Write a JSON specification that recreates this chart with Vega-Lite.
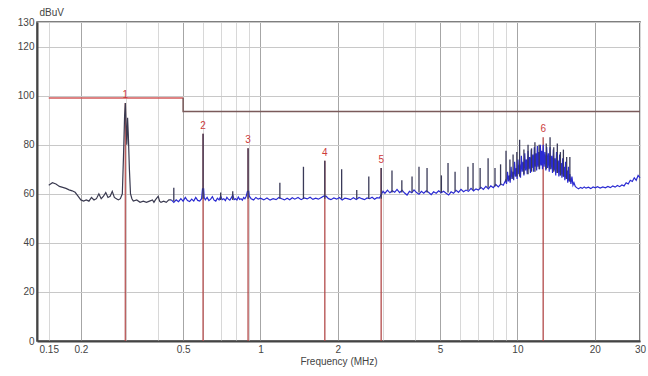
{
  "$schema": "https://vega.github.io/schema/vega-lite/v6.json",
  "width": 603,
  "height": 319,
  "autosize": {"type": "none"},
  "padding": {"left": 37, "top": 22, "right": 8, "bottom": 35},
  "background": "white",
  "config": {
    "view": {"stroke": "#555", "strokeWidth": 1.5},
    "font": "Liberation Sans",
    "axis": {"labelFont": "Liberation Sans", "titleFont": "Liberation Sans", "labelColor": "#444", "titleColor": "#444", "labelFontSize": 10, "titleFontSize": 10, "titleFontWeight": "normal", "domainColor": "#444", "domainWidth": 2, "ticks": false}
  },
  "datasets": {
    "trace": [
      {"f":0.15,"v":63.5,"p":"a"},{"f":0.155,"v":64.5,"p":"a"},{"f":0.16,"v":64,"p":"a"},{"f":0.165,"v":63,"p":"a"},{"f":0.17,"v":62.6,"p":"a"},{"f":0.175,"v":62.2,"p":"a"},{"f":0.18,"v":61.6,"p":"a"},{"f":0.185,"v":61.2,"p":"a"},{"f":0.19,"v":60.6,"p":"a"},{"f":0.195,"v":59,"p":"a"},{"f":0.2,"v":57.5,"p":"a"},{"f":0.205,"v":57,"p":"a"},{"f":0.21,"v":57.5,"p":"a"},{"f":0.215,"v":57,"p":"a"},{"f":0.22,"v":58.5,"p":"a"},{"f":0.225,"v":57.5,"p":"a"},{"f":0.23,"v":58,"p":"a"},{"f":0.235,"v":60,"p":"a"},{"f":0.24,"v":58,"p":"a"},{"f":0.245,"v":59,"p":"a"},{"f":0.25,"v":60.5,"p":"a"},{"f":0.255,"v":58.5,"p":"a"},{"f":0.26,"v":59,"p":"a"},{"f":0.265,"v":61,"p":"a"},{"f":0.27,"v":58.5,"p":"a"},{"f":0.275,"v":58,"p":"a"},{"f":0.28,"v":57.5,"p":"a"},{"f":0.285,"v":58,"p":"a"},{"f":0.29,"v":60,"p":"a"},{"f":0.293,"v":75,"p":"a"},{"f":0.296,"v":92,"p":"a"},{"f":0.298,"v":97,"p":"a"},{"f":0.3,"v":88,"p":"a"},{"f":0.302,"v":80,"p":"a"},{"f":0.304,"v":91,"p":"a"},{"f":0.306,"v":84,"p":"a"},{"f":0.309,"v":70,"p":"a"},{"f":0.312,"v":60,"p":"a"},{"f":0.316,"v":58,"p":"a"},{"f":0.32,"v":57,"p":"a"},{"f":0.33,"v":57.5,"p":"a"},{"f":0.34,"v":56.5,"p":"a"},{"f":0.35,"v":57,"p":"a"},{"f":0.36,"v":56.5,"p":"a"},{"f":0.37,"v":57,"p":"a"},{"f":0.38,"v":57.5,"p":"a"},{"f":0.385,"v":56.5,"p":"a"},{"f":0.39,"v":57.5,"p":"a"},{"f":0.4,"v":59,"p":"a"},{"f":0.405,"v":57,"p":"a"},{"f":0.41,"v":56.5,"p":"a"},{"f":0.42,"v":57,"p":"a"},{"f":0.43,"v":56.5,"p":"a"},{"f":0.44,"v":57.5,"p":"a"},{"f":0.45,"v":57.5,"p":"a"},
      {"f":0.45,"v":57.5,"p":"b"},{"f":0.46,"v":56.5,"p":"b"},{"f":0.47,"v":57.5,"p":"b"},{"f":0.48,"v":56.8,"p":"b"},{"f":0.49,"v":58,"p":"b"},{"f":0.5,"v":57,"p":"b"},{"f":0.51,"v":58.5,"p":"b"},{"f":0.52,"v":57.2,"p":"b"},{"f":0.53,"v":56.8,"p":"b"},{"f":0.54,"v":57.8,"p":"b"},{"f":0.55,"v":57,"p":"b"},{"f":0.56,"v":58.5,"p":"b"},{"f":0.57,"v":57.3,"p":"b"},{"f":0.58,"v":57,"p":"b"},{"f":0.59,"v":58,"p":"b"},{"f":0.595,"v":62,"p":"b"},{"f":0.601,"v":62,"p":"b"},{"f":0.604,"v":58.5,"p":"b"},{"f":0.61,"v":57.5,"p":"b"},{"f":0.62,"v":58.5,"p":"b"},{"f":0.63,"v":57.2,"p":"b"},{"f":0.64,"v":57.8,"p":"b"},{"f":0.65,"v":58.8,"p":"b"},{"f":0.66,"v":57.4,"p":"b"},{"f":0.67,"v":57,"p":"b"},{"f":0.68,"v":58.2,"p":"b"},{"f":0.69,"v":57.5,"p":"b"},{"f":0.7,"v":59,"p":"b"},{"f":0.71,"v":57.6,"p":"b"},{"f":0.72,"v":58,"p":"b"},{"f":0.73,"v":57.2,"p":"b"},{"f":0.74,"v":58.5,"p":"b"},{"f":0.75,"v":57.8,"p":"b"},{"f":0.76,"v":57.4,"p":"b"},{"f":0.77,"v":58.3,"p":"b"},{"f":0.78,"v":59.5,"p":"b"},{"f":0.79,"v":57.6,"p":"b"},{"f":0.8,"v":58,"p":"b"},{"f":0.81,"v":57.5,"p":"b"},{"f":0.82,"v":58.7,"p":"b"},{"f":0.83,"v":57.7,"p":"b"},{"f":0.84,"v":58,"p":"b"},{"f":0.85,"v":57.4,"p":"b"},{"f":0.86,"v":58.5,"p":"b"},{"f":0.87,"v":58,"p":"b"},{"f":0.88,"v":59,"p":"b"},{"f":0.89,"v":61,"p":"b"},{"f":0.9,"v":61,"p":"b"},{"f":0.905,"v":59,"p":"b"},{"f":0.92,"v":58,"p":"b"},{"f":0.94,"v":57.5,"p":"b"},{"f":0.96,"v":58.5,"p":"b"},{"f":0.98,"v":57.8,"p":"b"},{"f":1.0,"v":58.2,"p":"b"},{"f":1.03,"v":57.5,"p":"b"},{"f":1.06,"v":58.3,"p":"b"},{"f":1.09,"v":57.4,"p":"b"},{"f":1.12,"v":58,"p":"b"},{"f":1.15,"v":57.6,"p":"b"},{"f":1.18,"v":58.5,"p":"b"},{"f":1.21,"v":58,"p":"b"},{"f":1.24,"v":57.5,"p":"b"},{"f":1.27,"v":58.2,"p":"b"},{"f":1.3,"v":57.6,"p":"b"},{"f":1.33,"v":58.4,"p":"b"},{"f":1.36,"v":57.8,"p":"b"},{"f":1.4,"v":58.5,"p":"b"},{"f":1.44,"v":57.6,"p":"b"},{"f":1.48,"v":58.3,"p":"b"},{"f":1.52,"v":57.9,"p":"b"},{"f":1.56,"v":58.6,"p":"b"},{"f":1.6,"v":57.7,"p":"b"},{"f":1.64,"v":58.2,"p":"b"},{"f":1.68,"v":57.8,"p":"b"},{"f":1.72,"v":58.4,"p":"b"},{"f":1.76,"v":59,"p":"b"},{"f":1.8,"v":59,"p":"b"},{"f":1.84,"v":58,"p":"b"},{"f":1.88,"v":57.6,"p":"b"},{"f":1.93,"v":58.3,"p":"b"},{"f":1.98,"v":57.8,"p":"b"},{"f":2.03,"v":58.5,"p":"b"},{"f":2.08,"v":57.5,"p":"b"},{"f":2.13,"v":58.2,"p":"b"},{"f":2.18,"v":58,"p":"b"},{"f":2.24,"v":57.6,"p":"b"},{"f":2.3,"v":58.4,"p":"b"},{"f":2.36,"v":57.7,"p":"b"},{"f":2.42,"v":58.5,"p":"b"},{"f":2.48,"v":58,"p":"b"},{"f":2.54,"v":57.6,"p":"b"},{"f":2.6,"v":58.3,"p":"b"},{"f":2.66,"v":58,"p":"b"},{"f":2.72,"v":58.6,"p":"b"},{"f":2.78,"v":57.8,"p":"b"},{"f":2.84,"v":58.4,"p":"b"},{"f":2.9,"v":58.2,"p":"b"},{"f":3.0,"v":61,"p":"b"},{"f":3.05,"v":60.2,"p":"b"},{"f":3.12,"v":61.5,"p":"b"},{"f":3.19,"v":60.4,"p":"b"},{"f":3.26,"v":61.2,"p":"b"},{"f":3.33,"v":60.6,"p":"b"},{"f":3.4,"v":61.8,"p":"b"},{"f":3.48,"v":60.5,"p":"b"},{"f":3.56,"v":61.4,"p":"b"},{"f":3.64,"v":60.3,"p":"b"},{"f":3.72,"v":59.5,"p":"b"},{"f":3.8,"v":61,"p":"b"},{"f":3.88,"v":60.4,"p":"b"},{"f":3.96,"v":61.6,"p":"b"},{"f":4.05,"v":60.5,"p":"b"},{"f":4.14,"v":59.8,"p":"b"},{"f":4.23,"v":61,"p":"b"},{"f":4.32,"v":60.2,"p":"b"},{"f":4.42,"v":61.2,"p":"b"},{"f":4.52,"v":60.5,"p":"b"},{"f":4.62,"v":59.6,"p":"b"},{"f":4.72,"v":60.8,"p":"b"},{"f":4.83,"v":60.2,"p":"b"},{"f":4.94,"v":61.2,"p":"b"},{"f":5.05,"v":60.4,"p":"b"},{"f":5.16,"v":61,"p":"b"},{"f":5.28,"v":60.2,"p":"b"},{"f":5.4,"v":59.5,"p":"b"},{"f":5.52,"v":60.8,"p":"b"},{"f":5.64,"v":60.2,"p":"b"},{"f":5.77,"v":61.4,"p":"b"},{"f":5.9,"v":60.6,"p":"b"},{"f":6.03,"v":61.8,"p":"b"},{"f":6.17,"v":60.8,"p":"b"},{"f":6.31,"v":61.5,"p":"b"},{"f":6.45,"v":61,"p":"b"},{"f":6.6,"v":62.2,"p":"b"},{"f":6.75,"v":61.2,"p":"b"},{"f":6.9,"v":62,"p":"b"},{"f":7.05,"v":61.5,"p":"b"},{"f":7.21,"v":62.6,"p":"b"},{"f":7.37,"v":61.8,"p":"b"},{"f":7.54,"v":63,"p":"b"},{"f":7.71,"v":62,"p":"b"},{"f":7.88,"v":63.2,"p":"b"},{"f":8.06,"v":62.5,"p":"b"},{"f":8.24,"v":63.8,"p":"b"},{"f":8.43,"v":62.8,"p":"b"},{"f":8.62,"v":64,"p":"b"},{"f":8.81,"v":63.5,"p":"b"},{"f":9.0,"v":65.5,"p":"b"},{"f":9.07,"v":64,"p":"b"},{"f":9.15,"v":69,"p":"b"},{"f":9.22,"v":65,"p":"b"},{"f":9.3,"v":67.5,"p":"b"},{"f":9.37,"v":64.5,"p":"b"},{"f":9.45,"v":71,"p":"b"},{"f":9.52,"v":66,"p":"b"},{"f":9.6,"v":69,"p":"b"},{"f":9.67,"v":65.5,"p":"b"},{"f":9.75,"v":73,"p":"b"},{"f":9.82,"v":67,"p":"b"},{"f":9.9,"v":70.5,"p":"b"},{"f":9.97,"v":66,"p":"b"},{"f":10.05,"v":74,"p":"b"},{"f":10.12,"v":68,"p":"b"},{"f":10.2,"v":72,"p":"b"},{"f":10.28,"v":66.5,"p":"b"},{"f":10.36,"v":75.5,"p":"b"},{"f":10.44,"v":69,"p":"b"},{"f":10.52,"v":73,"p":"b"},{"f":10.6,"v":67.5,"p":"b"},{"f":10.68,"v":76.5,"p":"b"},{"f":10.76,"v":69.5,"p":"b"},{"f":10.84,"v":74,"p":"b"},{"f":10.92,"v":68,"p":"b"},{"f":11.0,"v":77.5,"p":"b"},{"f":11.08,"v":70,"p":"b"},{"f":11.16,"v":75,"p":"b"},{"f":11.24,"v":68.5,"p":"b"},{"f":11.32,"v":78,"p":"b"},{"f":11.4,"v":70.5,"p":"b"},{"f":11.48,"v":76,"p":"b"},{"f":11.56,"v":69,"p":"b"},{"f":11.64,"v":79,"p":"b"},{"f":11.72,"v":71,"p":"b"},{"f":11.8,"v":76.5,"p":"b"},{"f":11.88,"v":69.5,"p":"b"},{"f":11.96,"v":79.5,"p":"b"},{"f":12.04,"v":71,"p":"b"},{"f":12.12,"v":77,"p":"b"},{"f":12.2,"v":70,"p":"b"},{"f":12.28,"v":80,"p":"b"},{"f":12.36,"v":71.5,"p":"b"},{"f":12.44,"v":77.5,"p":"b"},{"f":12.52,"v":70,"p":"b"},{"f":12.6,"v":80,"p":"b"},{"f":12.7,"v":71,"p":"b"},{"f":12.8,"v":77,"p":"b"},{"f":12.9,"v":69.5,"p":"b"},{"f":13.0,"v":79,"p":"b"},{"f":13.1,"v":70.5,"p":"b"},{"f":13.2,"v":76.5,"p":"b"},{"f":13.3,"v":69,"p":"b"},{"f":13.4,"v":79,"p":"b"},{"f":13.5,"v":70,"p":"b"},{"f":13.6,"v":75.5,"p":"b"},{"f":13.7,"v":68.5,"p":"b"},{"f":13.8,"v":78,"p":"b"},{"f":13.9,"v":69.5,"p":"b"},{"f":14.0,"v":74.5,"p":"b"},{"f":14.1,"v":67.5,"p":"b"},{"f":14.2,"v":77,"p":"b"},{"f":14.3,"v":68.5,"p":"b"},{"f":14.4,"v":73.5,"p":"b"},{"f":14.5,"v":67,"p":"b"},{"f":14.6,"v":76,"p":"b"},{"f":14.7,"v":67.5,"p":"b"},{"f":14.8,"v":72.5,"p":"b"},{"f":14.9,"v":66.5,"p":"b"},{"f":15.0,"v":74.5,"p":"b"},{"f":15.1,"v":67,"p":"b"},{"f":15.2,"v":71,"p":"b"},{"f":15.3,"v":65.5,"p":"b"},{"f":15.4,"v":73,"p":"b"},{"f":15.5,"v":66,"p":"b"},{"f":15.6,"v":69.5,"p":"b"},{"f":15.7,"v":64.5,"p":"b"},{"f":15.8,"v":71,"p":"b"},{"f":15.9,"v":65,"p":"b"},{"f":16.0,"v":68,"p":"b"},{"f":16.15,"v":64,"p":"b"},{"f":16.3,"v":67,"p":"b"},{"f":16.45,"v":63.5,"p":"b"},{"f":16.6,"v":64.5,"p":"b"},{"f":16.8,"v":63,"p":"b"},{"f":17.0,"v":62.5,"p":"b"},{"f":17.3,"v":62,"p":"b"},{"f":17.6,"v":62.6,"p":"b"},{"f":17.9,"v":62.2,"p":"b"},{"f":18.2,"v":62.8,"p":"b"},{"f":18.5,"v":62.3,"p":"b"},{"f":18.9,"v":62.7,"p":"b"},{"f":19.3,"v":62.1,"p":"b"},{"f":19.7,"v":62.8,"p":"b"},{"f":20.1,"v":62.4,"p":"b"},{"f":20.5,"v":62.9,"p":"b"},{"f":21.0,"v":62.3,"p":"b"},{"f":21.5,"v":62.8,"p":"b"},{"f":22.0,"v":62.4,"p":"b"},{"f":22.5,"v":63,"p":"b"},{"f":23.0,"v":62.5,"p":"b"},{"f":23.5,"v":63.2,"p":"b"},{"f":24.0,"v":62.7,"p":"b"},{"f":24.5,"v":63.4,"p":"b"},{"f":25.0,"v":62.9,"p":"b"},{"f":25.5,"v":63.6,"p":"b"},{"f":26.0,"v":63.2,"p":"b"},{"f":26.5,"v":64.5,"p":"b"},{"f":27.0,"v":64,"p":"b"},{"f":27.5,"v":65.5,"p":"b"},{"f":28.0,"v":65,"p":"b"},{"f":28.5,"v":66.5,"p":"b"},{"f":29.0,"v":65.5,"p":"b"},{"f":29.5,"v":67.5,"p":"b"},{"f":30.0,"v":66.5,"p":"b"}
    ],
    "spikes": [
      {"f":0.46,"lo":57,"hi":62.5},{"f":0.598,"lo":58,"hi":84.5},{"f":0.7,"lo":57.5,"hi":60.5},{"f":0.78,"lo":57.5,"hi":61},{"f":0.895,"lo":58,"hi":78.5},
      {"f":1.19,"lo":58,"hi":64.5},{"f":1.47,"lo":58,"hi":71},{"f":1.78,"lo":58,"hi":73.5},{"f":2.07,"lo":58,"hi":70},{"f":2.37,"lo":58,"hi":61.5},{"f":2.64,"lo":58,"hi":67},{"f":2.95,"lo":58,"hi":70.5},
      {"f":3.25,"lo":60.5,"hi":69.5},{"f":3.55,"lo":60.5,"hi":65.5},{"f":3.89,"lo":60.5,"hi":67},{"f":4.14,"lo":60.5,"hi":71},{"f":4.45,"lo":60.5,"hi":70.5},{"f":5.06,"lo":60.5,"hi":67.5},{"f":5.37,"lo":60.5,"hi":72.5},{"f":5.72,"lo":61,"hi":69},{"f":6.42,"lo":61.5,"hi":71},{"f":6.72,"lo":61.5,"hi":72.5},{"f":7.16,"lo":62,"hi":70.5},{"f":7.69,"lo":62.5,"hi":74.5},{"f":8.18,"lo":63,"hi":70.5},
      {"f":8.6,"lo":63.5,"hi":72},{"f":9.03,"lo":65,"hi":77.5},{"f":9.35,"lo":65.5,"hi":74},{"f":9.62,"lo":66,"hi":76},{"f":9.95,"lo":67,"hi":77},{"f":10.2,"lo":67,"hi":82},{"f":10.6,"lo":68,"hi":78},{"f":11.0,"lo":68,"hi":80},{"f":11.35,"lo":69,"hi":78.5},{"f":11.7,"lo":69,"hi":81},{"f":12.15,"lo":70,"hi":80},{"f":12.95,"lo":70,"hi":80.5},{"f":13.4,"lo":70,"hi":83},{"f":13.85,"lo":69,"hi":79},{"f":14.3,"lo":68.5,"hi":80.5},{"f":14.7,"lo":67.5,"hi":77},{"f":15.1,"lo":67,"hi":78},{"f":15.55,"lo":66,"hi":75},{"f":16.0,"lo":65,"hi":75}
    ],
    "markers": [
      {"f":0.298,"v":97,"n":"1"},{"f":0.598,"v":84.5,"n":"2"},{"f":0.895,"v":78.5,"n":"3"},{"f":1.78,"v":73.5,"n":"4"},{"f":2.95,"v":70.5,"n":"5"},{"f":12.6,"v":83,"n":"6"}
    ],
    "limitA": [{"f":0.15,"v":99},{"f":0.5,"v":99}],
    "limitB": [{"f":0.5,"v":99},{"f":0.5,"v":93.5},{"f":30,"v":93.5}]
  },
  "layer": [
    {
      "data": {"name": "limitA"},
      "mark": {"type": "line", "color": "#d35a5a", "strokeWidth": 1.5},
      "encoding": {
        "x": {"field": "f", "type": "quantitative",
          "scale": {"type": "log", "domain": [0.135, 30], "nice": false},
          "axis": {
            "values": [0.15,0.2,0.3,0.4,0.5,0.6,0.7,0.8,0.9,1,2,3,4,5,6,7,8,9,10,20,30],
            "labelExpr": "indexof([0.15,0.2,0.5,1,2,5,10,20,30], datum.value) >= 0 ? datum.value + '' : ''",
            "labelOverlap": false, "labelFlush": false, "labelBound": false, "labelPadding": 3,
            "gridColor": {"condition": {"test": "indexof([0.2,0.5,1,2,5,10,20], datum.value) >= 0", "value": "#a6a6a6"}, "value": "#d8d8d8"},
            "title": "Frequency (MHz)", "titlePadding": 2
          }
        },
        "y": {"field": "v", "type": "quantitative",
          "scale": {"domain": [0, 130], "nice": false},
          "axis": {
            "values": [0,20,40,60,80,100,120,130],
            "gridColor": "#c8c8c8", "labelPadding": 3,
            "title": "dBuV", "titleAngle": 0, "titleAlign": "left", "titleBaseline": "bottom", "titleX": 2, "titleY": -5
          }
        }
      }
    },
    {
      "data": {"name": "limitB"},
      "mark": {"type": "line", "color": "#7a5a5a", "strokeWidth": 1.5},
      "encoding": {"x": {"field": "f", "type": "quantitative"}, "y": {"field": "v", "type": "quantitative"}}
    },
    {
      "data": {"name": "markers"},
      "mark": {"type": "rule", "color": "#b04545", "strokeWidth": 1.5, "opacity": 0.85},
      "encoding": {"x": {"field": "f", "type": "quantitative"}, "y": {"field": "v", "type": "quantitative"}, "y2": {"datum": 0}}
    },
    {
      "data": {"name": "trace"},
      "mark": {"type": "line", "strokeWidth": 1.2},
      "encoding": {
        "x": {"field": "f", "type": "quantitative"},
        "y": {"field": "v", "type": "quantitative"},
        "color": {"field": "p", "type": "nominal", "scale": {"domain": ["a","b"], "range": ["#3a3a50", "#2a2ad2"]}, "legend": null}
      }
    },
    {
      "data": {"name": "spikes"},
      "mark": {"type": "rule", "color": "#3a3a58", "strokeWidth": 1.3},
      "encoding": {"x": {"field": "f", "type": "quantitative"}, "y": {"field": "lo", "type": "quantitative"}, "y2": {"field": "hi"}}
    },
    {
      "data": {"name": "markers"},
      "mark": {"type": "text", "color": "#cc3b3b", "fontSize": 10, "dy": -8, "font": "Liberation Sans"},
      "encoding": {"x": {"field": "f", "type": "quantitative"}, "y": {"field": "v", "type": "quantitative"}, "text": {"field": "n"}}
    }
  ]
}
